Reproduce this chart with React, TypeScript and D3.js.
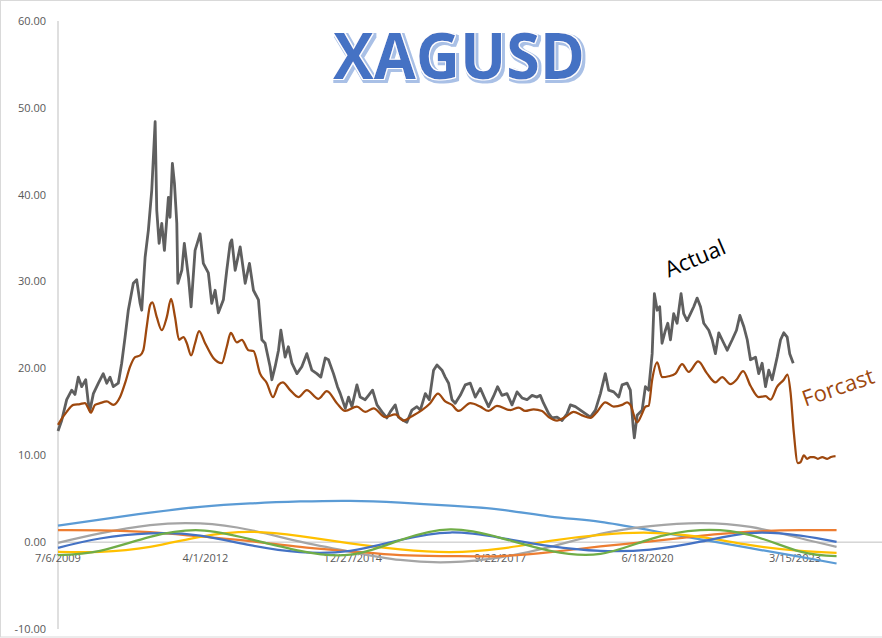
import React from "react";
import * as d3 from "d3";

const W = 882;
const H = 638;

const xTickDays = [0, 1000, 2000, 3000, 4000, 5000];
const xTickLabels = ["7/6/2009", "4/1/2012", "12/27/2014", "9/22/2017", "6/18/2020", "3/15/2023"];
const yTicks = [-10, 0, 10, 20, 30, 40, 50, 60];

const actualDays = [0, 25, 59, 93, 115, 138, 161, 188, 206, 217, 240, 274, 307, 331, 353, 375, 409, 432, 455, 477, 511, 534, 557, 568, 591, 613, 636, 659, 670, 686, 704, 722, 749, 760, 776, 790, 806, 813, 840, 857, 885, 903, 930, 964, 986, 1020, 1043, 1066, 1088, 1122, 1145, 1168, 1179, 1202, 1236, 1270, 1299, 1326, 1360, 1371, 1383, 1405, 1439, 1451, 1473, 1496, 1512, 1541, 1563, 1587, 1621, 1654, 1688, 1722, 1756, 1783, 1813, 1835, 1869, 1896, 1915, 1949, 1971, 1994, 2028, 2050, 2084, 2107, 2134, 2164, 2198, 2231, 2254, 2288, 2310, 2344, 2367, 2401, 2435, 2458, 2492, 2519, 2548, 2571, 2605, 2627, 2650, 2673, 2695, 2729, 2763, 2797, 2831, 2865, 2899, 2921, 2955, 2982, 3012, 3046, 3080, 3114, 3148, 3182, 3216, 3250, 3272, 3294, 3329, 3351, 3386, 3420, 3454, 3476, 3510, 3544, 3578, 3612, 3646, 3680, 3713, 3736, 3770, 3804, 3827, 3861, 3883, 3902, 3910, 3929, 3963, 3985, 4007, 4031, 4046, 4065, 4082, 4098, 4121, 4137, 4155, 4177, 4200, 4227, 4245, 4268, 4291, 4313, 4336, 4359, 4381, 4415, 4438, 4460, 4483, 4517, 4540, 4574, 4603, 4626, 4653, 4676, 4698, 4732, 4754, 4777, 4800, 4822, 4845, 4879, 4902, 4924, 4947, 4964, 4988];
const actualValues = [12.8, 14.0, 16.4, 17.5, 17.0, 19.0, 17.9, 18.7, 16.0, 15.2, 17.1, 18.3, 19.4, 18.3, 19.0, 17.9, 18.3, 20.6, 23.6, 26.7, 29.8, 30.2, 27.5, 26.7, 32.8, 35.9, 40.5, 48.4, 38.2, 34.4, 36.7, 33.6, 39.7, 37.4, 43.6, 41.3, 36.7, 29.8, 31.3, 34.4, 30.5, 27.1, 33.6, 35.5, 32.1, 31.0, 27.5, 29.0, 26.4, 27.9, 31.3, 34.4, 34.8, 31.3, 34.0, 29.8, 32.1, 29.0, 27.9, 25.6, 23.3, 22.9, 20.2, 18.7, 20.2, 22.1, 24.4, 21.3, 22.5, 20.6, 19.4, 20.2, 21.7, 19.8, 19.4, 19.0, 21.2, 21.0, 19.4, 17.9, 17.1, 15.4, 16.7, 15.6, 18.1, 16.7, 16.4, 16.9, 17.5, 15.8, 15.0, 14.3, 15.0, 15.8, 14.4, 14.0, 13.8, 15.2, 15.6, 15.2, 17.1, 16.4, 19.8, 20.4, 19.8, 19.0, 18.3, 16.4, 16.0, 16.9, 18.1, 18.3, 16.7, 17.7, 16.4, 15.6, 16.8, 17.9, 16.9, 17.1, 15.8, 17.3, 16.6, 16.4, 16.9, 16.7, 16.9, 16.0, 14.8, 14.3, 14.4, 14.0, 14.8, 15.8, 15.6, 15.2, 14.8, 14.4, 15.2, 17.1, 19.4, 17.5, 17.3, 16.7, 18.1, 18.3, 17.5, 13.3, 12.0, 14.6, 15.2, 17.9, 17.5, 21.7, 28.6, 26.7, 27.1, 22.9, 24.4, 25.2, 23.3, 26.3, 25.2, 28.6, 26.3, 25.5, 26.3, 27.1, 28.1, 27.1, 25.2, 24.4, 23.3, 21.7, 24.1, 22.9, 22.1, 23.3, 24.4, 26.1, 24.8, 23.3, 21.0, 21.3, 19.4, 20.6, 17.9, 19.8, 18.7, 21.3, 23.3, 24.1, 23.6, 21.7, 20.6];

const forecastDays = [0, 14, 59, 104, 149, 183, 206, 222, 251, 285, 331, 375, 421, 455, 489, 523, 557, 579, 602, 625, 640, 670, 704, 738, 767, 794, 821, 851, 874, 903, 930, 957, 998, 1054, 1111, 1145, 1172, 1213, 1247, 1292, 1326, 1371, 1417, 1458, 1496, 1525, 1575, 1631, 1688, 1767, 1824, 1892, 1948, 2028, 2084, 2141, 2220, 2288, 2344, 2401, 2469, 2525, 2578, 2627, 2673, 2718, 2797, 2865, 2921, 2978, 3069, 3125, 3170, 3227, 3284, 3329, 3386, 3442, 3498, 3555, 3612, 3657, 3713, 3770, 3827, 3861, 3883, 3929, 3963, 3985, 4007, 4031, 4065, 4098, 4143, 4189, 4234, 4279, 4343, 4404, 4460, 4506, 4562, 4603, 4648, 4698, 4754, 4800, 4834, 4879, 4924, 4949, 4970, 4992, 5019, 5037, 5060, 5083, 5105, 5128, 5155, 5185, 5219, 5244, 5275];
const forecastValues = [13.5, 13.9, 15.0, 15.8, 15.9, 16.0, 15.4, 14.9, 15.8, 16.0, 16.2, 15.8, 16.7, 18.3, 20.2, 21.3, 21.5, 22.1, 24.8, 27.3, 27.6, 25.9, 24.4, 25.9, 28.0, 25.9, 23.3, 23.6, 22.9, 21.5, 22.9, 24.3, 22.9, 21.2, 20.6, 22.5, 24.1, 23.0, 23.3, 22.1, 22.0, 19.4, 18.3, 16.7, 18.1, 18.4, 17.5, 16.7, 17.5, 16.5, 17.4, 16.0, 15.1, 15.6, 15.0, 15.4, 14.4, 14.7, 14.0, 14.5, 15.2, 16.0, 17.1, 16.2, 15.8, 15.1, 16.0, 15.6, 15.1, 15.7, 15.2, 15.5, 15.1, 15.3, 15.1, 14.4, 14.0, 14.4, 15.0, 14.6, 14.3, 15.0, 16.1, 15.6, 15.8, 16.1, 15.8, 13.8, 14.8, 15.6, 15.7, 18.7, 20.7, 19.0, 19.1, 19.4, 20.5, 19.6, 20.8, 19.4, 18.4, 19.0, 18.2, 18.7, 19.7, 18.0, 16.7, 16.8, 16.4, 17.9, 18.7, 19.3, 17.2, 12.6, 9.1, 9.2, 10.0, 9.6, 9.8, 9.8, 9.6, 9.8, 9.6, 9.8, 9.9];

const cycleDays = [0, 285, 625, 964, 1303, 1643, 1982, 2322, 2661, 3001, 3340, 3680, 4019, 4358, 4698, 5037, 5282];
const cycleLightBlue = [1.9, 2.6, 3.4, 4.05, 4.45, 4.68, 4.76, 4.55, 4.2, 3.75, 2.95, 2.34, 1.35, 0.32, -0.7, -1.7, -2.46];
const cycleGray = [-0.08, 1.0, 1.96, 2.15, 1.4, 0.05, -1.1, -2.05, -2.3, -1.75, -0.55, 0.95, 1.85, 2.2, 1.75, 0.45, -0.54];
const cycleOrange = [1.38, 1.36, 1.15, 0.65, 0.12, -0.55, -1.05, -1.5, -1.61, -1.6, -1.15, -0.5, 0.1, 0.72, 1.2, 1.38, 1.38];
const cycleYellow = [-1.11, -1.11, -0.54, 0.61, 1.19, 0.69, -0.15, -0.84, -1.15, -0.75, 0.15, 0.85, 1.08, 0.6, -0.35, -1.0, -1.23];
const cycleDarkBlue = [-0.65, 0.42, 1.0, 0.75, -0.35, -1.15, -1.0, 0.25, 1.11, 0.5, -0.45, -1.0, -0.85, 0.05, 1.05, 0.75, 0.03];
const cycleGreen = [-1.5, -1.0, 0.6, 1.36, 0.35, -1.0, -1.45, 0.23, 1.46, 0.5, -1.0, -1.35, 0.35, 1.38, 0.8, -1.1, -1.61];

const cycleSeries = [
  { name: "c1", values: cycleLightBlue, color: "#5B9BD5" },
  { name: "c2", values: cycleGray, color: "#A5A5A5" },
  { name: "c3", values: cycleOrange, color: "#ED7D31" },
  { name: "c4", values: cycleYellow, color: "#FFC000" },
  { name: "c5", values: cycleDarkBlue, color: "#4472C4" },
  { name: "c6", values: cycleGreen, color: "#70AD47" },
];

export default function App() {
  const x = d3.scaleLinear().domain([0, 5000]).range([58, 795]);
  const y = d3.scaleLinear().domain([-10, 60]).range([629, 21]);
  const font = "'Open Sans', 'Noto Sans', sans-serif";

  const linePts = d3
    .line<[number, number]>()
    .x((d) => x(d[0]))
    .y((d) => y(d[1]));
  const smoothLine = d3
    .line<[number, number]>()
    .x((d) => x(d[0]))
    .y((d) => y(d[1]))
    .curve(d3.curveMonotoneX);
  const naturalLine = d3
    .line<[number, number]>()
    .x((d) => x(d[0]))
    .y((d) => y(d[1]))
    .curve(d3.curveNatural);

  const actual = actualDays.map((d, i) => [d, actualValues[i]] as [number, number]);
  const forecast = forecastDays.map((d, i) => [d, forecastValues[i]] as [number, number]);

  return (
    <svg
      width={W}
      height={H}
      style={{ position: "absolute", left: 0, top: 0, background: "#fff" }}
    >
      <defs>
        <filter id="titleFx" x="-10%" y="-20%" width="120%" height="150%">
          <feMorphology in="SourceAlpha" operator="dilate" radius="1.6" result="dil" />
          <feOffset in="dil" dx="1.5" dy="1.8" result="off" />
          <feFlood floodColor="#A9C0E6" result="col" />
          <feComposite in="col" in2="off" operator="in" result="shadow" />
          <feMorphology in="SourceAlpha" operator="dilate" radius="1" result="dil2" />
          <feFlood floodColor="#FFFFFF" result="white" />
          <feComposite in="white" in2="dil2" operator="in" result="outline" />
          <feMerge>
            <feMergeNode in="shadow" />
            <feMergeNode in="outline" />
            <feMergeNode in="SourceGraphic" />
          </feMerge>
        </filter>
      </defs>
      <rect x={0.5} y={0.5} width={W + 10} height={H - 1.5} fill="#fff" stroke="#D9D9D9" />
      {/* title */}
      <text
        x={459}
        y={79}
        fontFamily={font}
        fontWeight={700}
        fontSize={64}
        textAnchor="middle"
        fill="#4472C4"
        textLength={252}
        lengthAdjust="spacingAndGlyphs"
        filter="url(#titleFx)"
      >
        XAGUSD
      </text>
      {/* axes */}
      <line x1={x(0)} x2={x(0)} y1={y(60)} y2={y(-10)} stroke="#BFBFBF" strokeWidth={1} />
      <line x1={x(0)} x2={W} y1={y(0)} y2={y(0)} stroke="#BFBFBF" strokeWidth={1} />
      <g fontFamily={font} fontSize={11} fill="#595959">
        {yTicks.map((t) => (
          <text key={t} x={46} y={y(t)} dy="0.35em" textAnchor="end">
            {t.toFixed(2)}
          </text>
        ))}
        {xTickDays.map((d, i) => (
          <text key={d} x={x(d)} y={y(0) + 16} dy="0.35em" textAnchor="middle">
            {xTickLabels[i]}
          </text>
        ))}
      </g>
      {/* cycle lines */}
      {cycleSeries.map((s) => (
        <path
          key={s.name}
          d={naturalLine(cycleDays.map((d, i) => [d, s.values[i]] as [number, number])) || ""}
          fill="none"
          stroke={s.color}
          strokeWidth={2.25}
        />
      ))}
      {/* actual */}
      <path d={linePts(actual) || ""} fill="none" stroke="#5F5F5F" strokeWidth={2.8} strokeLinejoin="round" />
      {/* forecast */}
      <path d={smoothLine(forecast) || ""} fill="none" stroke="#9E480E" strokeWidth={2.25} />
      {/* annotations */}
      <text x={695} y={266} fontFamily={font} fontSize={22} fill="#000" textAnchor="middle" transform="rotate(-23 695 258)">
        Actual
      </text>
      <text x={838} y={395} fontFamily={font} fontSize={22} fill="#9E480E" textAnchor="middle" transform="rotate(-19 838 387)">
        Forcast
      </text>
    </svg>
  );
}
